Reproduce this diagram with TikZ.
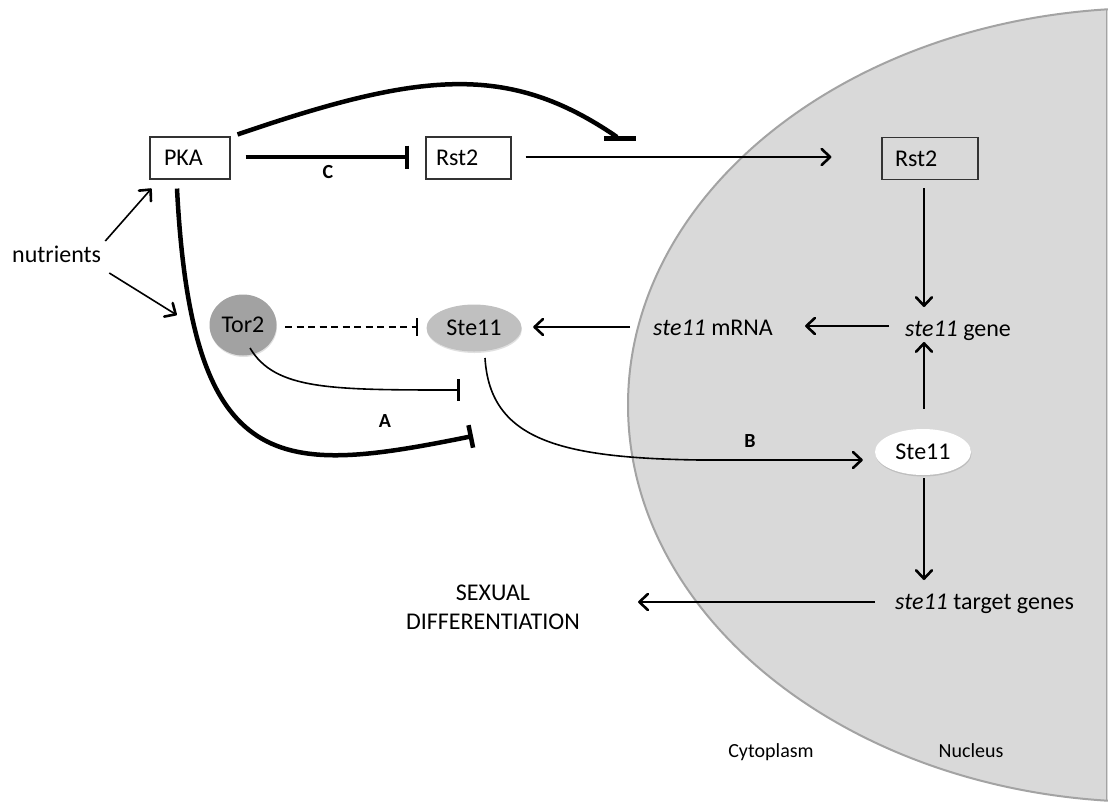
\documentclass[tikz,border=0pt]{standalone}
\usepackage{fontspec}
\setmainfont{Carlito}
\usetikzlibrary{arrows.meta,shapes.geometric,calc,shadows}
\definecolor{nucfill}{HTML}{D9D9D9}
\definecolor{nucedge}{HTML}{A3A3A3}
\definecolor{torfill}{HTML}{A2A2A2}
\definecolor{stcfill}{HTML}{C0C0C0}
\begin{document}
\begin{tikzpicture}[x=1pt,y=-1pt,
  every node/.style={font=\fontsize{24}{29}\selectfont, inner sep=0pt},
  box/.style={draw=black!80, line width=1.1pt, minimum height=42pt, align=left},
  blob/.style={ellipse, drop shadow={shadow xshift=0.5pt, shadow yshift=-1.5pt, opacity=0.12, fill=black}},
  lbl/.style={font=\fontsize{20}{22}\selectfont\bfseries, anchor=base},
  small/.style={font=\fontsize{20}{24}\selectfont, anchor=base},
  arr/.style={line width=1.6pt, -{Straight Barb[length=8.5pt,width=16pt,line width=2.6pt,round]}},
  inhthick/.style={line width=4.5pt, -{Bar[width=23pt]}},
  inhthin/.style={line width=1.6pt, -{Bar[width=22pt,line width=3pt]}},
  inhdash/.style={line width=1.6pt, dash pattern=on 7pt off 4.5pt, -{Bar[width=18pt]}}
]
\useasboundingbox (0,0) rectangle (1108,801);
% nucleus
\begin{scope}
  \clip (0,0) rectangle (1108,801);
  \fill[nucfill] (1150,405) ellipse [x radius=522, y radius=397];
  \draw[nucedge, line width=2pt] (1150,405) ellipse [x radius=522, y radius=397];
  \draw[nucedge, line width=1.5pt] (1106.5,10) -- (1106.5,800);
\end{scope}

% nodes
\node[box, text width=52pt, inner xsep=14pt] (PKA) at (190,158) {PKA};
\node[box, text width=65pt, inner xsep=10pt] (Rst2a) at (468.5,158) {Rst2};
\node[box, text width=70pt, inner xsep=13pt] (Rst2b) at (930,158.5) {Rst2};
\node[blob, fill=torfill, minimum width=67pt, minimum height=61pt] (Tor2) at (243,325) {Tor2};
\node[blob, fill=stcfill, minimum width=95pt, minimum height=47pt] (Ste11c) at (474,328) {Ste11};
\node[blob, fill=white, minimum width=96pt, minimum height=46pt] (Ste11n) at (923,452) {Ste11};
\node[anchor=base west] (nut) at (12,262) {nutrients};
\node[anchor=base west] (mRNA) at (653,335) {\textit{ste11} mRNA};
\node[anchor=base west] (gene) at (905,336) {\textit{ste11} gene};
\node[anchor=base west] (target) at (895,609) {\textit{ste11} target genes};
\node[align=center] (SD) at (493,607) {SEXUAL\\DIFFERENTIATION};
\node[small] (cyto) at (771,757) {Cytoplasm};
\node[small] (nucl) at (971,757) {Nucleus};
\node[lbl] (labC) at (328,178) {C};
\node[lbl] (labA) at (385,427) {A};
\node[lbl] (labB) at (750,447) {B};

% free ends
\coordinate (arcEnd) at (617,137);
\coordinate (pkaInh) at (473,436);
\coordinate (torInh) at (460,390);

% connectors
\draw[arr] ($(nut.base east)+(4,-21)$) -- ($(PKA.south west)+(2,9)$);
\draw[arr] ($(nut.base east)+(8,11)$) -- ($(Tor2.west)+(-32.5,-10)$);
\draw[inhthick] ($(PKA.east)+(15,-1)$) -- ($(Rst2a.west)+(-16,-1)$);
\draw[line width=4.5pt] ($(PKA.north east)+(7,-2)$) .. controls (420,72) and (508,62) .. (arcEnd);
\draw[line width=5pt] ($(arcEnd)+(-13,1)$) -- ($(arcEnd)+(19,1)$);
\draw[inhthick] ($(PKA.south)+(-13,9)$) .. controls (192,480) and (280,475) .. (pkaInh);
\draw[arr] ($(Rst2a.east)+(14,-1)$) -- ($(Rst2b.west)+(-50,-1.5)$);
\draw[arr] ($(Rst2b.south)+(-6,8)$) -- ($(gene.base west)+(19,-29)$);
\draw[arr] ($(gene.base west)+(-16,-10)$) -- ($(mRNA.base east)+(32,-9)$);
\draw[arr] ($(mRNA.base west)+(-23,-8)$) -- ($(Ste11c.east)+(11.5,-1)$);
\draw[inhdash] ($(Tor2.east)+(8.5,2)$) -- ($(Ste11c.west)+(-8.5,-1)$);
\draw[inhthin] ($(Tor2)+(7,23)$) .. controls (275,390) and (330,390) .. (torInh);
\draw[arr] ($(Ste11c)+(11,30)$) .. controls (490,440) and (560,458) .. (700,460) -- ($(Ste11n.west)+(-12,8)$);
\draw[arr] ($(Ste11n.north)+(1,-20)$) -- ($(gene.base west)+(19,6)$);
\draw[arr] ($(Ste11n.south)+(1,3)$) -- ($(target.base west)+(29,-29)$);
\draw[arr] ($(target.base west)+(-20,-7)$) -- ($(SD.east |- target.base west)+(58,-7)$);
\end{tikzpicture}
\end{document}
